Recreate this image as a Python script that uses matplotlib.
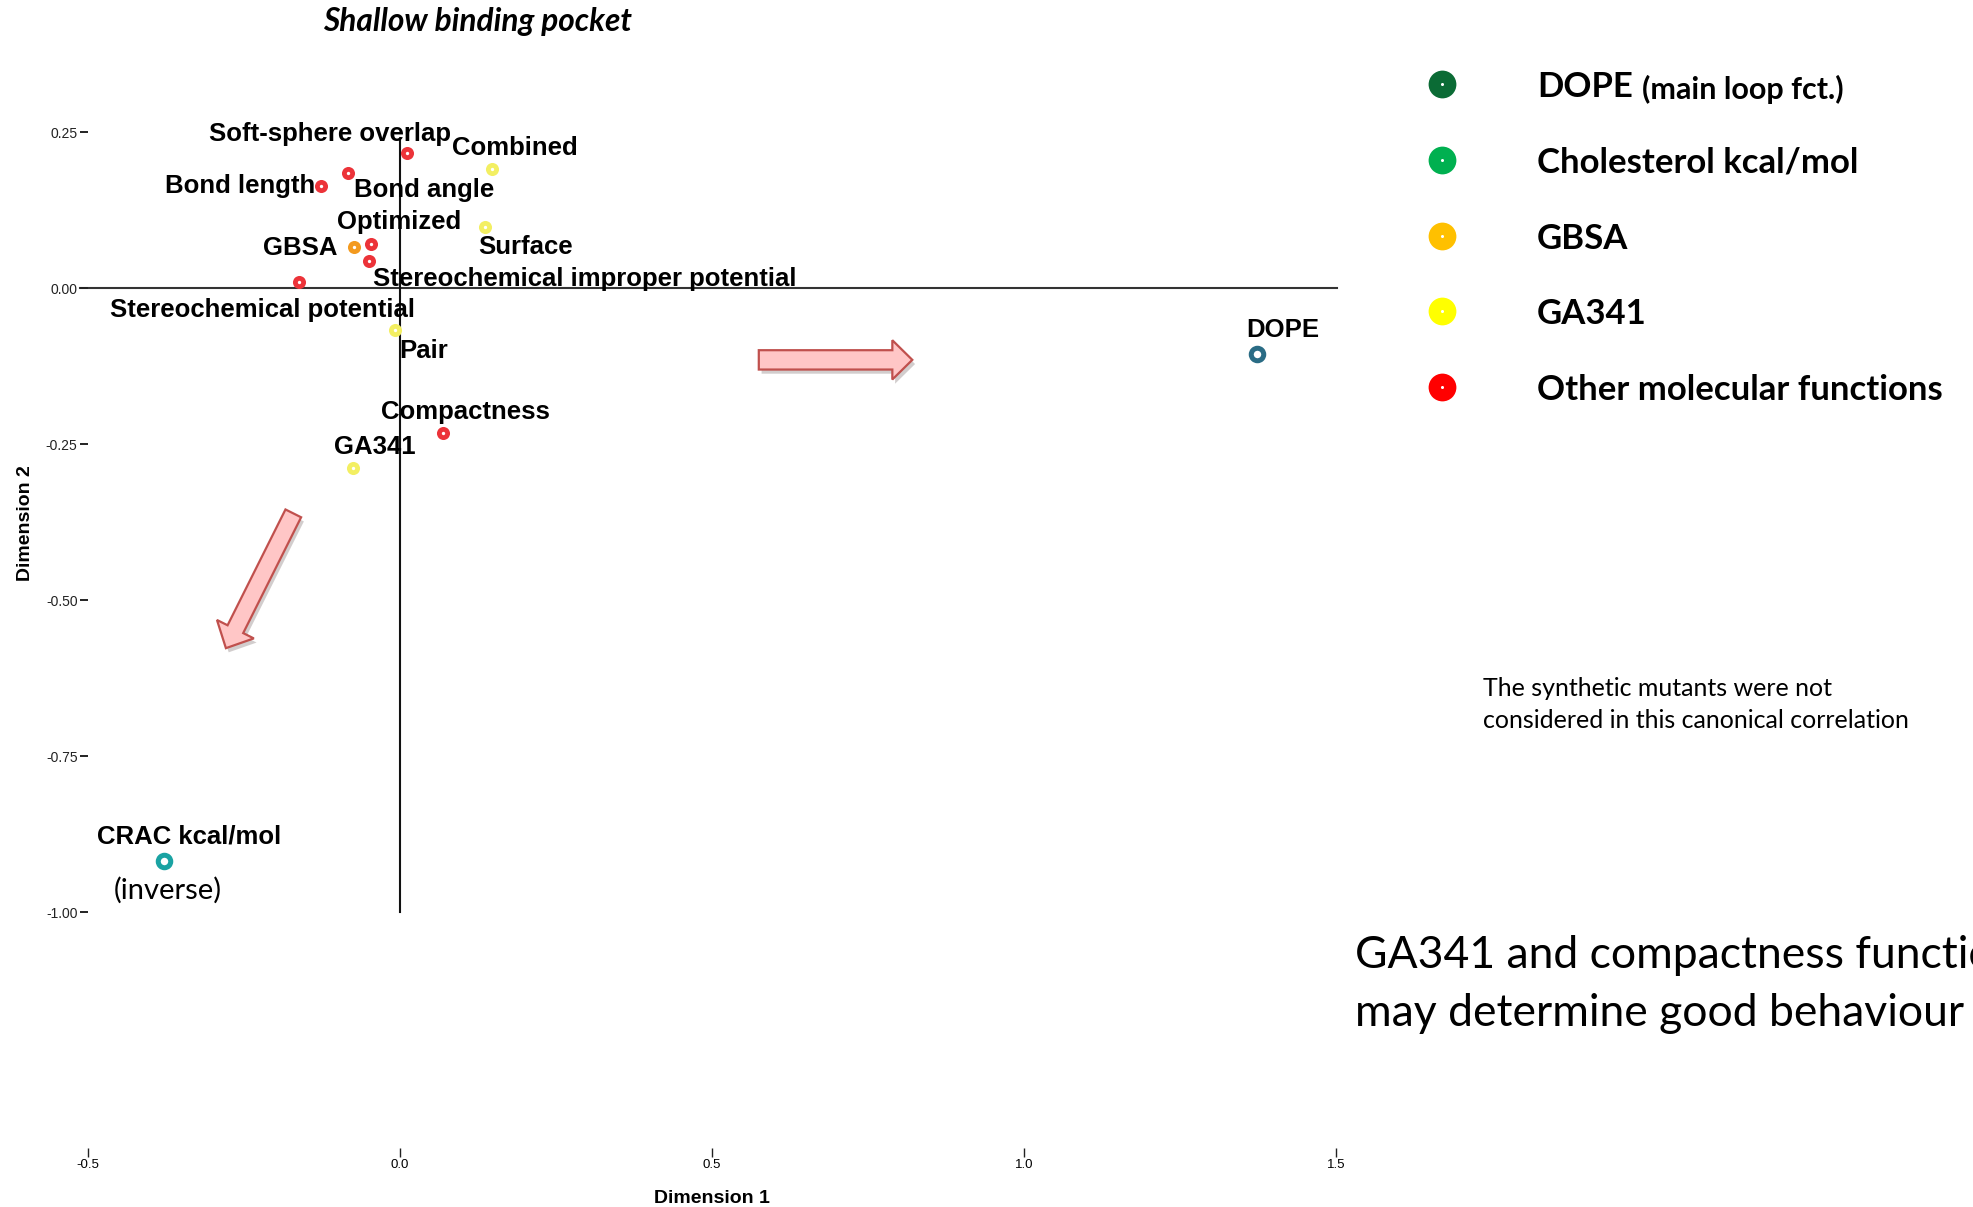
import matplotlib
matplotlib.use('Agg')
import matplotlib.pyplot as plt
import matplotlib.patheffects as pe
from matplotlib.patches import FancyArrow

W, H = 1973, 1207

# canonical correlation loadings
names = ['Soft-sphere overlap', 'Bond length', 'Bond angle', 'Combined', 'Optimized',
         'GBSA', 'Surface', 'Stereochemical improper potential', 'Stereochemical potential',
         'Pair', 'Compactness', 'GA341']
dim1 = [0.011, -0.127, -0.084, 0.147, -0.047, -0.073, 0.136, -0.050, -0.162, -0.008, 0.069, -0.076]
dim2 = [0.216, 0.164, 0.185, 0.191, 0.070, 0.066, 0.098, 0.044, 0.010, -0.067, -0.232, -0.289]
group = ['other', 'other', 'other', 'ga341', 'other', 'gbsa', 'ga341', 'other', 'other',
         'ga341', 'other', 'ga341']

# the two response variables
resp_names = ['CRAC kcal/mol', 'DOPE']
resp_dim1 = [-0.378, 1.374]
resp_dim2 = [-0.918, -0.106]

xticks = [-0.5, 0.0, 0.5, 1.0, 1.5]
yticks = [0.25, 0.0, -0.25, -0.5, -0.75, -1.0]

legend_labels = ['DOPE', 'Cholesterol kcal/mol', 'GBSA', 'GA341', 'Other molecular functions']
legend_colors = ['#0b6b35', '#00b050', '#ffc000', '#ffff00', '#ff0000']

point_colors = {'other': '#ec3339', 'ga341': '#f3ef62', 'gbsa': '#f39a1f'}
resp_colors = ['#1aa3a3', '#2a6c85']

# label offsets from the point, in pixels (dx right, dy up) and alignment
label_pos = {
    'Soft-sphere overlap': (-77, 19, 'center'),
    'Bond length': (-6, 0, 'right'),
    'Bond angle': (6, -17, 'left'),
    'Combined': (23, 21, 'center'),
    'Optimized': (28, 22, 'center'),
    'GBSA': (-17, -1, 'right'),
    'Surface': (41, -20, 'center'),
    'Stereochemical improper potential': (4, -18, 'left'),
    'Stereochemical potential': (-36, -28, 'center'),
    'Pair': (4, -21, 'left'),
    'Compactness': (22, 21, 'center'),
    'GA341': (22, 21, 'center'),
    'CRAC kcal/mol': (25, 24, 'center'),
    'DOPE': (25, 24, 'center'),
}

CAL = 'Lato'
ARIAL = 'Liberation Sans'

fig = plt.figure(figsize=(W / 100, H / 100), dpi=100)
ax = fig.add_axes([88 / W, 59 / H, 1248 / W, 1140.7 / H])
ax.set_xlim(-0.5, 1.5)
ax.set_ylim(-1.378, 0.45)
for s in ax.spines.values():
    s.set_visible(False)

ax.set_xticks(xticks)
ax.set_xticklabels(['%.1f' % v for v in xticks], fontsize=9.5, family=ARIAL)
ax.set_yticks(yticks)
ax.set_yticklabels(['%.2f' % v for v in yticks], fontsize=10, family=ARIAL, color='#222222')
ax.tick_params(axis='x', length=6.5, width=1, pad=1.5, color='#222222')
ax.tick_params(axis='y', length=6, width=1.4, pad=1.5, color='#222222')

ax.set_xlabel('Dimension 1', fontsize=14, fontweight='bold', family=ARIAL)
ax.xaxis.set_label_coords(0.5, -0.037)
ax.set_ylabel('Dimension 2', fontsize=14, fontweight='bold', family=ARIAL)
ax.yaxis.set_label_coords(-0.0436, 0.548)

# reference lines through the origin
ax.plot([-0.513, 1.502], [0, 0], color='#333333', lw=1.5, clip_on=False, zorder=1)
ax.plot([0, 0], [-1.0, 0.237], color='#111111', lw=1.5, zorder=1)

# loadings
for n, x, y, g in zip(names, dim1, dim2, group):
    ax.plot(x, y, 'o', ms=9.4, color=point_colors[g], mec='none', zorder=3)
    ax.plot(x, y, 'o', ms=2.4, color='white', mec='none', zorder=4)
for n, x, y, c in zip(resp_names, resp_dim1, resp_dim2, resp_colors):
    ax.plot(x, y, 'o', ms=9.0, mfc='white', mec=c, mew=3.6, zorder=3)

for n, x, y in list(zip(names, dim1, dim2)) + list(zip(resp_names, resp_dim1, resp_dim2)):
    dx, dy, ha = label_pos[n]
    ax.annotate(n, (x, y), xytext=(dx * 0.72, dy * 0.72), textcoords='offset points',
                ha=ha, va='center', fontsize=18.5, fontweight='bold', family=ARIAL, zorder=5)

ax.annotate('(inverse)', (resp_dim1[0], resp_dim2[0]), xytext=(4 * 0.72, -29 * 0.72),
            textcoords='offset points', ha='center', va='center', fontsize=21, family=CAL)

# block arrows
arrow_style = dict(length_includes_head=True, fc='#ffc6c6', ec='#c0504d', lw=1.6, zorder=2,
                   path_effects=[pe.SimplePatchShadow(offset=(2, -3), alpha=0.25), pe.Normal()])
ax.add_patch(FancyArrow(0.575, -0.115, 0.246, 0.0, width=0.031, head_width=0.063,
                        head_length=0.032, **arrow_style))
ax.add_patch(FancyArrow(-0.171, -0.361, -0.108, -0.216, width=0.028, head_width=0.066,
                        head_length=0.034, **arrow_style))

ax.text(0.125, 0.427, 'Shallow binding pocket', ha='center', va='center', fontsize=22.8,
        fontweight='bold', style='italic', family=CAL)

# legend and notes on the right, in figure pixels
ov = fig.add_axes([0, 0, 1, 1], facecolor='none')
ov.set_xlim(0, W)
ov.set_ylim(H, 0)
ov.axis('off')

for i, (lab, col) in enumerate(zip(legend_labels, legend_colors)):
    y = 84 + i * 75.8
    ov.plot(1442, y, 'o', ms=20, color=col, mec='none')
    ov.plot(1442, y, 'o', ms=2.2, color='white', mec='none')
    ov.text(1537, y + 3, lab, ha='left', va='center', fontsize=25, fontweight='bold', family=CAL)
ov.text(1642, 89, '(main loop fct.)', ha='left', va='center', fontsize=22, fontweight='bold',
        family=CAL)

note = ['The synthetic mutants were not', 'considered in this canonical correlation']
for i, line in enumerate(note):
    ov.text(1483, 689 + i * 32, line, ha='left', va='center', fontsize=18, family=CAL)

summary = ['GA341 and compactness functions', 'may determine good behaviour']
for i, line in enumerate(summary):
    ov.text(1355, 956 + i * 57, line, ha='left', va='center', fontsize=32, family=CAL)

fig.savefig('out.png', dpi=100, facecolor='white')
